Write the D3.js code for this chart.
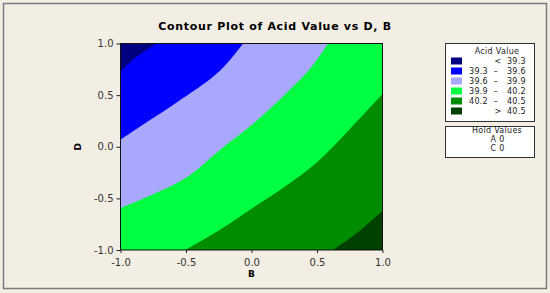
<!DOCTYPE html>
<html>
<head>
<meta charset="utf-8">
<script src="https://cdn.jsdelivr.net/npm/d3@7"></script>
<style>
  body { margin: 0; background: #f3eee4; }
  svg { display: block; font-family: "DejaVu Sans", Verdana, sans-serif; }
</style>
</head>
<body>
<svg id="chart" width="550" height="293"></svg>
<script>
// contour levels and band colours (low -> high)
let levels = [39.3, 39.6, 39.9, 40.2, 40.5];
let bandColors = ["#000080", "#0000ff", "#a8a8ff", "#00ff40", "#008c00", "#004000"];

// contour lines, [B, D]
let c393 = [[-1, 0.729], [-0.891, 0.858], [-0.723, 1]];
let c396 = [[-1, 0.068], [-0.789, 0.246], [-0.560, 0.439], [-0.280, 0.693], [-0.153, 0.858], [-0.064, 1]];
let c399 = [[-1, -0.593], [-0.75, -0.46], [-0.5, -0.30], [-0.25, -0.04], [0, 0.21], [0.25, 0.50], [0.45, 0.76], [0.585, 1]];
let c402 = [[-0.509, -1], [-0.25, -0.81], [0, -0.60], [0.25, -0.39], [0.5, -0.15], [0.75, 0.17], [1, 0.51]];
let c405 = [[0.621, -1], [0.804, -0.835], [1, -0.622]];
let contourLines = [c393, c396, c399, c402, c405];

let tickVals = [-1, -0.5, 0, 0.5, 1];
let tickLabels = ["-1.0", "-0.5", "0.0", "0.5", "1.0"];
let holdNames = ["A", "C"];
let holdVals = [0, 0];

let svg = d3.select('#chart');

// outer frame
svg.append('rect')
  .attr('x', 3.5).attr('y', 3.5).attr('width', 543).attr('height', 285)
  .attr('fill', '#f3eee4').attr('stroke', '#7c7c7c').attr('stroke-width', 1.5);

let x = d3.scaleLinear().domain([-1, 1]).range([120.5, 382.5]);
let y = d3.scaleLinear().domain([-1, 1]).range([250, 43.5]);

svg.append('clipPath').attr('id', 'plotclip')
  .append('rect')
  .attr('x', x(-1)).attr('y', y(1))
  .attr('width', x(1) - x(-1)).attr('height', y(-1) - y(1));

let plot = svg.append('g').attr('clip-path', 'url(#plotclip)');

// highest band first, then paint upper-left side of each line
plot.append('rect')
  .attr('x', x(-1)).attr('y', y(1))
  .attr('width', x(1) - x(-1)).attr('height', y(-1) - y(1))
  .attr('fill', bandColors[5]);

let smooth = d3.line().x(d => x(d[0])).y(d => y(d[1])).curve(d3.curveCatmullRom.alpha(0.5));

for (let i = contourLines.length - 1; i >= 0; i--) {
  let pts = contourLines[i];
  let first = pts[0], last = pts[pts.length - 1];
  let corners = [];
  if (last[0] === 1) corners.push([1, 1]);
  corners.push([-1, 1]);
  if (first[1] === -1) corners.push([-1, -1]);
  let d = smooth(pts) + corners.map(c => 'L' + x(c[0]) + ',' + y(c[1])).join('') + 'Z';
  plot.append('path')
    .attr('d', d)
    .attr('fill', bandColors[i]);
}

// plot frame
svg.append('rect')
  .attr('x', x(-1)).attr('y', y(1))
  .attr('width', x(1) - x(-1)).attr('height', y(-1) - y(1))
  .attr('fill', 'none').attr('stroke', '#111').attr('stroke-width', 1);

let xAxis = svg.append('g')
  .attr('transform', 'translate(0,' + y(-1) + ')')
  .call(d3.axisBottom(x).tickValues(tickVals).tickFormat((d, i) => tickLabels[i]).tickSize(3).tickSizeOuter(0));
let yAxis = svg.append('g')
  .attr('transform', 'translate(' + x(-1) + ',0)')
  .call(d3.axisLeft(y).tickValues(tickVals).tickFormat((d, i) => tickLabels[i]).tickSize(4).tickSizeOuter(0));

[xAxis, yAxis].forEach(a => {
  a.select('.domain').remove();
  a.selectAll('text').attr('font-family', '"DejaVu Sans", sans-serif').attr('font-size', 10).attr('fill', '#333');
  a.selectAll('line').attr('stroke', '#222');
});
xAxis.selectAll('text').attr('dy', '0.95em');

// titles
svg.append('text')
  .attr('x', 275).attr('y', 29.5)
  .attr('text-anchor', 'middle')
  .attr('font-size', 11).attr('font-weight', 'bold')
  .attr('letter-spacing', 0.7)
  .text('Contour Plot of Acid Value vs D, B');

svg.append('text')
  .attr('x', x(0)).attr('y', 277)
  .attr('text-anchor', 'middle')
  .attr('font-size', 9).attr('font-weight', 'bold')
  .text('B');

svg.append('text')
  .attr('transform', 'translate(80.5,' + y(0) + ') rotate(-90)')
  .attr('text-anchor', 'middle')
  .attr('font-size', 9).attr('font-weight', 'bold')
  .text('D');

// legend
let leg = svg.append('g').attr('font-size', 8).attr('fill', '#222').attr('letter-spacing', 0.3);
leg.append('rect').attr('x', 445.5).attr('y', 43.5).attr('width', 89).attr('height', 78)
  .attr('fill', '#fff').attr('stroke', '#333');
leg.append('text').attr('x', 497).attr('y', 53.5).attr('text-anchor', 'middle').text('Acid Value');

bandColors.forEach((c, i) => {
  let cy = 61 + i * 10;
  leg.append('rect').attr('x', 451).attr('y', cy - 3.5).attr('width', 11).attr('height', 7).attr('fill', c);
  if (i === 0) {
    leg.append('text').attr('x', 498).attr('y', cy + 3).attr('text-anchor', 'middle').text('<');
    leg.append('text').attr('x', 526).attr('y', cy + 3).attr('text-anchor', 'end').text(levels[0].toFixed(1));
  } else if (i === bandColors.length - 1) {
    leg.append('text').attr('x', 498).attr('y', cy + 3).attr('text-anchor', 'middle').text('>');
    leg.append('text').attr('x', 526).attr('y', cy + 3).attr('text-anchor', 'end').text(levels[i - 1].toFixed(1));
  } else {
    leg.append('text').attr('x', 469).attr('y', cy + 3).text(levels[i - 1].toFixed(1));
    leg.append('text').attr('x', 496).attr('y', cy + 3).attr('text-anchor', 'middle').text('–');
    leg.append('text').attr('x', 526).attr('y', cy + 3).attr('text-anchor', 'end').text(levels[i].toFixed(1));
  }
});

leg.append('rect').attr('x', 445.5).attr('y', 126.5).attr('width', 89).attr('height', 31)
  .attr('fill', '#fff').attr('stroke', '#333');
leg.append('text').attr('x', 497).attr('y', 133).attr('text-anchor', 'middle').text('Hold Values');
holdNames.forEach((n, i) => {
  leg.append('text').attr('x', 493.5).attr('y', 142 + i * 9).attr('text-anchor', 'middle').text(n);
  leg.append('text').attr('x', 502).attr('y', 142 + i * 9).attr('text-anchor', 'middle').text(holdVals[i]);
});
</script>
</body>
</html>
